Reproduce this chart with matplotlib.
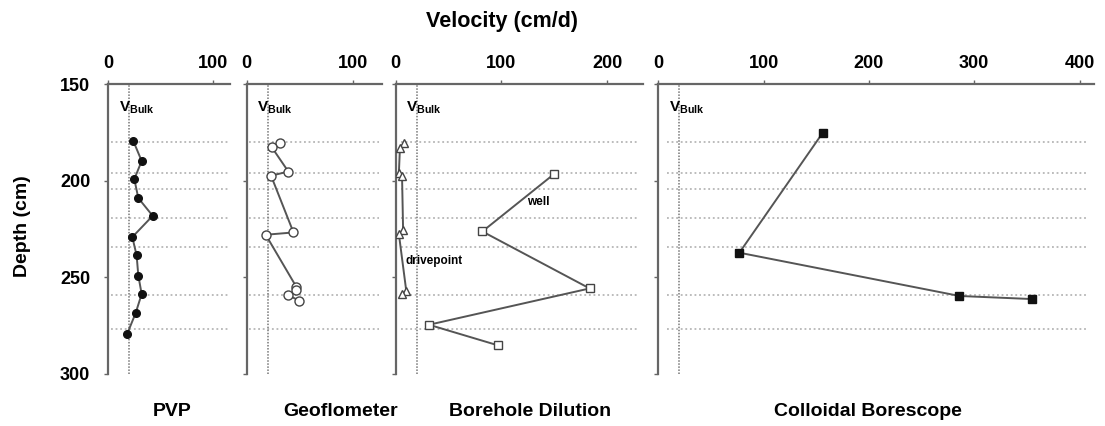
import matplotlib
matplotlib.use('Agg')
import matplotlib.pyplot as plt

plt.rcParams['font.family'] = ['Liberation Sans', 'DejaVu Sans']
plt.rcParams['font.weight'] = 'bold'
plt.rcParams['mathtext.fontset'] = 'custom'
plt.rcParams['mathtext.rm'] = 'Liberation Sans:bold'
plt.rcParams['mathtext.it'] = 'Liberation Sans:bold'
plt.rcParams['mathtext.bf'] = 'Liberation Sans:bold'

# depths of the dotted layer lines (cm)
layer_depths = [180, 196, 204, 219, 234.5, 259, 276.5]
v_bulk = 20

# PVP
pvp_v = [23.8, 31.8, 24.8, 28.6, 42.3, 22.9, 27.0, 28.6, 31.8, 26.1, 18.1]
pvp_depth = [179.3, 189.7, 199.1, 208.9, 218.1, 229.1, 238.6, 249.0, 258.6, 268.4, 279.1]

# Geoflometer
geo_v = [31.4, 23.6, 39.2, 22.9, 44.0, 17.9, 46.5, 46.5, 39.2, 49.6]
geo_depth = [180.5, 182.6, 195.2, 197.3, 226.7, 227.9, 254.7, 256.7, 259.3, 262.0]

# Borehole dilution: well and drivepoint
well_v = [150, 82, 183.5, 31.5, 97]
well_depth = [196.4, 226.2, 255.7, 274.5, 285.2]
drive_v = [8, 4, 3, 6, 7, 3, 10, 6]
drive_depth = [180.5, 183, 196, 197.5, 225.5, 227.5, 257, 258.5]

# Colloidal borescope
cb_v = [156, 77, 286, 355]
cb_depth = [175.2, 237.2, 259.6, 261.2]

W, H = 1105, 426
fig = plt.figure(figsize=(W / 100, H / 100), dpi=100)

# panel geometry in pixels: left, right, xmax, ticks
panels = [
    (108.3, 230.0, 116, [0, 100]),
    (246.7, 381.7, 127, [0, 100]),
    (395.7, 643.0, 234, [0, 100, 200]),
    (658.3, 1094.3, 414, [0, 100, 200, 300, 400]),
]
top_px, bot_px = 84.3, 374.0

axes = []
for i, (l, r, xmax, ticks) in enumerate(panels):
    ax = fig.add_axes([l / W, 1 - bot_px / H, (r - l) / W, (bot_px - top_px) / H])
    ax.set_xlim(0, xmax)
    ax.set_ylim(300, 150)
    ax.xaxis.tick_top()
    ax.set_xticks(ticks)
    ax.set_yticks([150, 200, 250, 300])
    if i > 0:
        ax.set_yticklabels([])
    for s in ['bottom', 'right']:
        ax.spines[s].set_visible(False)
    for s in ['top', 'left']:
        ax.spines[s].set_color('#666666')
        ax.spines[s].set_linewidth(1.6)
    ax.tick_params(axis='x', direction='out', length=3, width=1, color='#666666',
                   labelsize=13, pad=6)
    ax.tick_params(axis='y', direction='out', length=3, width=1, color='#666666',
                   labelsize=13, pad=10)
    for d in layer_depths:
        ax.axhline(d, xmin=0.02, xmax=0.98, color='#aaaaaa', lw=1.1,
                   ls=(0, (1.2, 1.8)), zorder=1)
    ax.axvline(v_bulk, color='#777777', lw=1.1, ls=(0, (1, 1)), zorder=1)
    ax.annotate(r'$\mathrm{V_{Bulk}}$', xy=(0, 1), xycoords='axes fraction',
                xytext=(7.5, -11), textcoords='offset points', va='top', ha='left',
                fontsize=11)
    axes.append(ax)

line_kw = dict(color='#555555', lw=1.4, zorder=3)

axes[0].plot(pvp_v, pvp_depth, marker='o', ms=5.5, mfc='#111111', mec='#111111', **line_kw)
axes[1].plot(geo_v, geo_depth, marker='o', ms=6.5, mfc='white', mec='#444444', mew=1, **line_kw)
axes[2].plot(well_v, well_depth, marker='s', ms=6, mfc='white', mec='#444444', mew=1, **line_kw)
axes[2].plot(drive_v, drive_depth, marker='^', ms=6, mfc='white', mec='#444444', mew=1, **line_kw)
axes[3].plot(cb_v, cb_depth, marker='s', ms=5.5, mfc='#111111', mec='#111111', **line_kw)

axes[2].text(124, 210.8, 'well', fontsize=8.5, va='center', ha='left')
axes[2].text(9, 241.7, 'drivepoint', fontsize=8.5, va='center', ha='left')

fig.text(502 / W, 1 - 21 / H, 'Velocity (cm/d)', fontsize=15.5, ha='center', va='center')
fig.text(23 / W, 1 - 226 / H, 'Depth (cm)', fontsize=14, rotation=90, ha='center', va='center')
for label, xc in [('PVP', 172), ('Geoflometer', 341), ('Borehole Dilution', 530),
                  ('Colloidal Borescope', 868)]:
    fig.text(xc / W, 1 - 411 / H, label, fontsize=14, ha='center', va='center')

plt.savefig('out.png', dpi=100)
plt.close()
